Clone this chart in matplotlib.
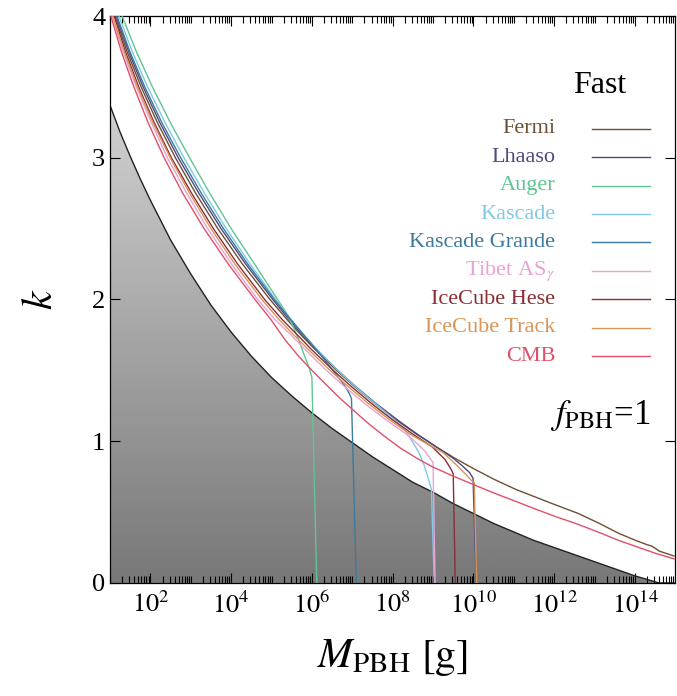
import numpy as np
import matplotlib
matplotlib.use("Agg")
import matplotlib.pyplot as plt
from matplotlib.ticker import FixedLocator, NullFormatter, FuncFormatter

plt.rcParams['font.family'] = ['Liberation Serif', 'DejaVu Serif']
plt.rcParams['mathtext.fontset'] = 'stix'

# log10(M/g), k values
bound_logm = [1.0, 1.25, 1.5, 1.75, 2.0, 2.5, 3.0, 3.5, 4.0, 4.5, 5.0, 5.5, 6.0, 6.5, 7.0, 7.5,
              8.0, 8.5, 9.0, 9.5, 10.0, 10.5, 11.0, 11.5, 12.0, 12.5, 13.0, 13.5, 14.0, 14.3, 14.6, 15.0]
bound_k = [3.37, 3.18, 3.01, 2.85, 2.70, 2.42, 2.18, 1.96, 1.77, 1.60, 1.45, 1.32, 1.20, 1.09, 0.99, 0.89,
           0.80, 0.71, 0.64, 0.56, 0.49, 0.42, 0.36, 0.30, 0.25, 0.20, 0.15, 0.10, 0.05, 0.025, 0.0, 0.0]

fermi_logm = [1.12, 1.42, 1.77, 2.17, 2.62, 3.12, 3.67, 4.28, 4.96, 5.38, 5.73, 6.07, 6.61, 7.04, 7.54, 8.09,
              8.59, 9.08, 9.54, 9.98, 10.52, 11.05, 11.95, 12.6, 13.12, 13.6, 14.02, 14.3, 14.42, 14.5, 14.6, 14.97]
fermi_k = [4.0, 3.75, 3.5, 3.25, 3.0, 2.75, 2.5, 2.25, 2.0, 1.86, 1.75, 1.65, 1.5, 1.39, 1.27, 1.15,
           1.05, 0.96, 0.88, 0.81, 0.73, 0.66, 0.56, 0.49, 0.42, 0.35, 0.30, 0.27, 0.26, 0.245, 0.225, 0.19]

lhaaso_logm = [1.15, 1.46, 1.82, 2.23, 2.69, 3.2, 3.75, 4.36, 5.03, 5.43, 5.77, 6.1, 6.64, 7.07, 7.57, 8.12,
               8.61, 9.08, 9.5, 9.75, 9.9, 9.99, 10.07]
lhaaso_k = [4.0, 3.75, 3.5, 3.25, 3.0, 2.75, 2.5, 2.25, 2.0, 1.86, 1.75, 1.65, 1.5, 1.39, 1.27, 1.15,
            1.05, 0.96, 0.88, 0.82, 0.78, 0.74, 0.0]

auger_logm = [1.30, 1.65, 2.05, 2.49, 2.97, 3.47, 4.0, 4.58, 5.15, 5.38, 5.55, 5.68, 5.82, 5.93, 6.0, 6.12]
auger_k = [4.0, 3.75, 3.5, 3.25, 3.0, 2.75, 2.5, 2.25, 2.0, 1.9, 1.8, 1.71, 1.6, 1.52, 1.45, 0.0]

kascade_logm = [1.22, 1.55, 1.93, 2.36, 2.83, 3.34, 3.88, 4.47, 5.1, 5.48, 5.8, 6.12, 6.64, 7.06, 7.55, 8.05,
                8.3, 8.46, 8.65, 8.78, 8.88, 8.96, 9.03]
kascade_k = [4.0, 3.75, 3.5, 3.25, 3.0, 2.75, 2.5, 2.25, 2.0, 1.86, 1.75, 1.65, 1.5, 1.39, 1.27, 1.15,
             1.08, 1.01, 0.92, 0.83, 0.74, 0.66, 0.0]

kgrande_logm = [1.17, 1.49, 1.86, 2.28, 2.75, 3.26, 3.81, 4.41, 5.07, 5.47, 5.8, 6.1, 6.38, 6.6, 6.83, 6.92, 6.98, 7.10]
kgrande_k = [4.0, 3.75, 3.5, 3.25, 3.0, 2.75, 2.5, 2.25, 2.0, 1.86, 1.75, 1.65, 1.55, 1.47, 1.385, 1.34, 1.30, 0.0]

tibet_logm = [1.05, 1.32, 1.65, 2.02, 2.42, 2.90, 3.42, 4.01, 4.66, 5.08, 5.48, 5.82, 6.36, 6.79, 7.29, 7.84,
              8.34, 8.62, 8.8, 9.0, 9.05]
tibet_k = [4.0, 3.75, 3.5, 3.25, 3.0, 2.75, 2.5, 2.25, 2.0, 1.86, 1.75, 1.65, 1.5, 1.39, 1.27, 1.15,
           1.05, 0.98, 0.93, 0.85, 0.0]

hese_logm = [1.10, 1.38, 1.71, 2.09, 2.52, 3.02, 3.56, 4.16, 4.83, 5.26, 5.64, 5.98, 6.53, 6.96, 7.46, 8.0,
             8.5, 8.98, 9.3, 9.45, 9.5, 9.55]
hese_k = [4.0, 3.75, 3.5, 3.25, 3.0, 2.75, 2.5, 2.25, 2.0, 1.86, 1.75, 1.65, 1.5, 1.39, 1.27, 1.15,
          1.05, 0.96, 0.87, 0.80, 0.77, 0.0]

track_logm = [1.07, 1.35, 1.68, 2.06, 2.49, 2.97, 3.50, 4.09, 4.76, 5.18, 5.55, 5.9, 6.45, 6.88, 7.38, 7.93,
              8.43, 8.8, 9.25, 9.55, 9.8, 9.96, 10.02, 10.08]
track_k = [4.0, 3.75, 3.5, 3.25, 3.0, 2.75, 2.5, 2.25, 2.0, 1.86, 1.75, 1.65, 1.5, 1.39, 1.27, 1.15,
           1.05, 0.99, 0.92, 0.84, 0.77, 0.72, 0.71, 0.0]

cmb_logm = [1.02, 1.28, 1.59, 1.94, 2.34, 2.80, 3.33, 3.93, 4.59, 4.98, 5.35, 5.67, 6.0, 6.35, 6.67, 7.02, 7.42,
            7.82, 8.2, 8.6, 8.98, 9.45, 9.95, 10.55, 11.1, 11.55, 12.02, 12.58, 13.08, 13.6, 14.0, 14.5, 14.97]
cmb_k = [4.0, 3.75, 3.5, 3.25, 3.0, 2.75, 2.5, 2.25, 2.0, 1.86, 1.71, 1.6, 1.5, 1.4, 1.31, 1.22, 1.12,
         1.03, 0.95, 0.88, 0.82, 0.76, 0.70, 0.63, 0.57, 0.52, 0.47, 0.415, 0.36, 0.30, 0.26, 0.21, 0.17]

names = ['Fermi', 'Lhaaso', 'Auger', 'Kascade', 'Kascade Grande',
         r'Tibet AS$_\gamma$', 'IceCube Hese', 'IceCube Track', 'CMB']
colors = ['#6e4f33', '#4d4a80', '#5fc593', '#7fcbe2', '#3d7a9e',
          '#e9a3d4', '#8a2f35', '#d99458', '#e0506a']
series = [(fermi_logm, fermi_k), (lhaaso_logm, lhaaso_k), (auger_logm, auger_k),
          (kascade_logm, kascade_k), (kgrande_logm, kgrande_k), (tibet_logm, tibet_k),
          (hese_logm, hese_k), (track_logm, track_k), (cmb_logm, cmb_k)]

fig = plt.figure(figsize=(6.77, 6.96), dpi=100)
ax = fig.add_axes([0.1625, 0.1624, 0.835, 0.8146])

bm = 10.0 ** np.array(bound_logm)
bk = np.array(bound_k)

# gray gradient below the boundary
poly = ax.fill_between(bm, 0, bk, color='none', lw=0)
GX, GY = np.meshgrid(np.linspace(0, 1, 200), np.linspace(0, 1, 200))
shade = 0.47 + 0.35 * GY + 0.12 * GX
img = ax.imshow(shade, cmap='gray', vmin=0, vmax=1, origin='lower',
                extent=[10, 1e15, 0, 3.4], aspect='auto', zorder=0)
img.set_clip_path(poly.get_paths()[0], transform=ax.transData)
ax.plot(bm, bk, color='#222222', lw=1.0, zorder=2)

for (lm, kk), c in zip(series, colors):
    ax.plot(10.0 ** np.array(lm), kk, color=c, lw=1.0, zorder=3)

ax.set_xscale('log')
ax.set_xlim(10, 1e15)
ax.set_ylim(0, 4)

major = [10.0 ** p for p in range(2, 15, 2)]
minor = [s * 10.0 ** p for p in range(1, 15) for s in range(1, 10)]
ax.xaxis.set_major_locator(FixedLocator(major))
ax.xaxis.set_minor_locator(FixedLocator(minor))
ax.xaxis.set_major_formatter(FuncFormatter(lambda v, p: r'$10^{%d}$' % round(np.log10(v))))
ax.xaxis.set_minor_formatter(NullFormatter())
ax.set_yticks([0, 1, 2, 3, 4])
ax.tick_params(axis='both', which='both', direction='in', top=True, right=True,
               labelsize=19, width=0.8)
ax.tick_params(which='major', length=7)
ax.tick_params(which='minor', length=5)
ax.tick_params(axis='x', pad=6)

for s in ax.spines.values():
    s.set_linewidth(0.9)

ax.set_xlabel(r'$M_{\rm PBH}\ [{\rm g}]$', fontsize=30, labelpad=14)
ax.set_ylabel(r'$k$', fontsize=30, rotation=90, labelpad=22)

# legend drawn by hand, labels right-aligned
ax.text(0.867, 0.878, 'Fast', transform=ax.transAxes, fontsize=23,
        ha='center', va='center')
for i, (n, c) in enumerate(zip(names, colors)):
    yy = 0.801 - i * 0.0501
    ax.text(0.788, yy, n, transform=ax.transAxes, fontsize=16, color=c,
            ha='right', va='center')
    ax.plot([0.853, 0.956], [yy, yy], transform=ax.transAxes, color=c, lw=1.0)

ax.text(0.956, 0.296, r'$f_{\rm PBH}$=1', transform=ax.transAxes,
        fontsize=25, ha='right', va='center')

fig.savefig('out.png', dpi=100)
